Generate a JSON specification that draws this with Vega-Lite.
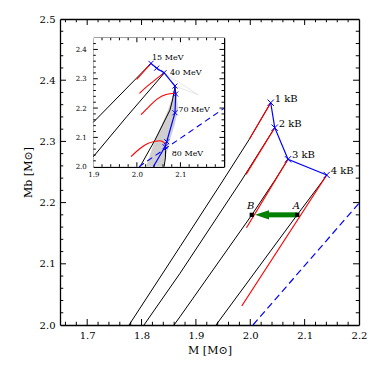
{
  "$schema": "https://vega.github.io/schema/vega-lite/v6.json",
  "width": 299,
  "height": 306,
  "autosize": {"type": "none"},
  "padding": {"left": 60, "top": 19, "right": 15, "bottom": 49},
  "background": "white",
  "config": {
    "view": {"stroke": null},
    "axis": {"grid": false, "ticks": false, "domainColor": "black", "labelColor": "black", "titleColor": "black", "labelFont": "DejaVu Serif", "titleFont": "DejaVu Serif", "titleFontWeight": "normal", "zindex": 1, "labelFlush": false, "labelOverlap": false, "domainWidth": 1.3},
    "tick": {"opacity": 1, "thickness": 1, "color": "black"}
  },
  "datasets": {
    "tMainX": [
      {"v": 1.66, "major": 0}, {"v": 1.68, "major": 0}, {"v": 1.7, "major": 1}, {"v": 1.72, "major": 0}, {"v": 1.74, "major": 0}, {"v": 1.76, "major": 0}, {"v": 1.78, "major": 0},
      {"v": 1.8, "major": 1}, {"v": 1.82, "major": 0}, {"v": 1.84, "major": 0}, {"v": 1.86, "major": 0}, {"v": 1.88, "major": 0},
      {"v": 1.9, "major": 1}, {"v": 1.92, "major": 0}, {"v": 1.94, "major": 0}, {"v": 1.96, "major": 0}, {"v": 1.98, "major": 0},
      {"v": 2.0, "major": 1}, {"v": 2.02, "major": 0}, {"v": 2.04, "major": 0}, {"v": 2.06, "major": 0}, {"v": 2.08, "major": 0},
      {"v": 2.1, "major": 1}, {"v": 2.12, "major": 0}, {"v": 2.14, "major": 0}, {"v": 2.16, "major": 0}, {"v": 2.18, "major": 0}
    ],
    "tMainY": [
      {"v": 2.02, "major": 0}, {"v": 2.04, "major": 0}, {"v": 2.06, "major": 0}, {"v": 2.08, "major": 0},
      {"v": 2.1, "major": 1}, {"v": 2.12, "major": 0}, {"v": 2.14, "major": 0}, {"v": 2.16, "major": 0}, {"v": 2.18, "major": 0},
      {"v": 2.2, "major": 1}, {"v": 2.22, "major": 0}, {"v": 2.24, "major": 0}, {"v": 2.26, "major": 0}, {"v": 2.28, "major": 0},
      {"v": 2.3, "major": 1}, {"v": 2.32, "major": 0}, {"v": 2.34, "major": 0}, {"v": 2.36, "major": 0}, {"v": 2.38, "major": 0},
      {"v": 2.4, "major": 1}, {"v": 2.42, "major": 0}, {"v": 2.44, "major": 0}, {"v": 2.46, "major": 0}, {"v": 2.48, "major": 0}
    ],
    "tInsetX": [
      {"v": 1.92, "major": 0}, {"v": 1.94, "major": 0}, {"v": 1.96, "major": 0}, {"v": 1.98, "major": 0},
      {"v": 2.0, "major": 1}, {"v": 2.02, "major": 0}, {"v": 2.04, "major": 0}, {"v": 2.06, "major": 0}, {"v": 2.08, "major": 0},
      {"v": 2.1, "major": 1}, {"v": 2.12, "major": 0}, {"v": 2.14, "major": 0}, {"v": 2.16, "major": 0}, {"v": 2.18, "major": 0}
    ],
    "tInsetY": [
      {"v": 2.02, "major": 0}, {"v": 2.04, "major": 0}, {"v": 2.06, "major": 0}, {"v": 2.08, "major": 0},
      {"v": 2.1, "major": 1}, {"v": 2.12, "major": 0}, {"v": 2.14, "major": 0}, {"v": 2.16, "major": 0}, {"v": 2.18, "major": 0},
      {"v": 2.2, "major": 1}, {"v": 2.22, "major": 0}, {"v": 2.24, "major": 0}, {"v": 2.26, "major": 0}, {"v": 2.28, "major": 0},
      {"v": 2.3, "major": 1}, {"v": 2.32, "major": 0}, {"v": 2.34, "major": 0}, {"v": 2.36, "major": 0}, {"v": 2.38, "major": 0},
      {"v": 2.4, "major": 1}, {"v": 2.42, "major": 0}
    ],
    "mainBlack": [
      {"line": 1, "i": 0, "M": 1.777, "Mb": 2.0}, {"line": 1, "i": 1, "M": 1.8708, "Mb": 2.1279}, {"line": 1, "i": 2, "M": 1.9504, "Mb": 2.2369}, {"line": 1, "i": 3, "M": 1.9982, "Mb": 2.3034}, {"line": 1, "i": 4, "M": 2.0376, "Mb": 2.3632},
      {"line": 2, "i": 0, "M": 1.8045, "Mb": 2.0}, {"line": 2, "i": 1, "M": 1.8708, "Mb": 2.0845}, {"line": 2, "i": 2, "M": 1.9843, "Mb": 2.2369}, {"line": 2, "i": 3, "M": 2.045, "Mb": 2.3224},
      {"line": 3, "i": 0, "M": 1.8597, "Mb": 2.0}, {"line": 3, "i": 1, "M": 1.8708, "Mb": 2.0136}, {"line": 3, "i": 2, "M": 2.0027, "Mb": 2.1797}, {"line": 3, "i": 3, "M": 2.0455, "Mb": 2.2369}, {"line": 3, "i": 4, "M": 2.0694, "Mb": 2.2708},
      {"line": 4, "i": 0, "M": 1.937, "Mb": 2.0}, {"line": 4, "i": 1, "M": 2.0865, "Mb": 2.1802}, {"line": 4, "i": 2, "M": 2.1344, "Mb": 2.2369}, {"line": 4, "i": 3, "M": 2.1406, "Mb": 2.2451}
    ],
    "mainRed": [
      {"line": 1, "i": 0, "M": 1.9982, "Mb": 2.3034}, {"line": 1, "i": 1, "M": 2.0376, "Mb": 2.3632},
      {"line": 2, "i": 0, "M": 1.9922, "Mb": 2.2462}, {"line": 2, "i": 1, "M": 2.045, "Mb": 2.3224},
      {"line": 3, "i": 0, "M": 1.993, "Mb": 2.159}, {"line": 3, "i": 1, "M": 2.0694, "Mb": 2.2708},
      {"line": 4, "i": 0, "M": 1.9843, "Mb": 2.031}, {"line": 4, "i": 1, "M": 2.1406, "Mb": 2.2451}
    ],
    "mainKB": [
      {"i": 0, "M": 2.0376, "Mb": 2.3632, "label": "1 kB"},
      {"i": 1, "M": 2.045, "Mb": 2.3224, "label": "2 kB"},
      {"i": 2, "M": 2.0694, "Mb": 2.2708, "label": "3 kB"},
      {"i": 3, "M": 2.1406, "Mb": 2.2451, "label": "4 kB"}
    ],
    "dashed": [
      {"i": 0, "M": 2.005, "Mb": 2.0}, {"i": 1, "M": 2.2, "Mb": 2.199}
    ],
    "AB": [
      {"M": 2.0865, "Mb": 2.18, "label": "A"},
      {"M": 2.0027, "Mb": 2.18, "label": "B"}
    ],
    "arrow": [
      {"from": 2.0865, "to": 2.033, "head": 2.0216, "Mb": 2.18}
    ],
    "insetFrame": [
      {"x0": 1.9, "x1": 2.2, "y0": 2.0, "y1": 2.44}
    ],
    "band": [
      {"Mb": 2.0, "lo": 2.021, "hi": 2.06},
      {"Mb": 2.045, "lo": 2.031, "hi": 2.068},
      {"Mb": 2.091, "lo": 2.0416, "hi": 2.076},
      {"Mb": 2.14, "lo": 2.056, "hi": 2.086},
      {"Mb": 2.193, "lo": 2.0715, "hi": 2.0944},
      {"Mb": 2.24, "lo": 2.082, "hi": 2.092},
      {"Mb": 2.268, "lo": 2.0875, "hi": 2.0885}
    ],
    "faint": [
      {"line": 1, "i": 0, "M": 2.062, "Mb": 2.318}, {"line": 1, "i": 1, "M": 2.1, "Mb": 2.285}, {"line": 1, "i": 2, "M": 2.141, "Mb": 2.245},
      {"line": 2, "i": 0, "M": 2.0875, "Mb": 2.275}, {"line": 2, "i": 1, "M": 2.141, "Mb": 2.245}
    ],
    "insetBlack": [
      {"line": 1, "i": 0, "M": 1.9, "Mb": 2.1514}, {"line": 1, "i": 1, "M": 2.0324, "Mb": 2.3525},
      {"line": 2, "i": 0, "M": 1.9, "Mb": 2.034}, {"line": 2, "i": 1, "M": 1.9767, "Mb": 2.1705}, {"line": 2, "i": 2, "M": 2.0623, "Mb": 2.3184},
      {"line": 3, "i": 0, "M": 2.0072, "Mb": 2.0}, {"line": 3, "i": 1, "M": 2.0416, "Mb": 2.091}, {"line": 3, "i": 2, "M": 2.076, "Mb": 2.1932}, {"line": 3, "i": 3, "M": 2.0818, "Mb": 2.2273}, {"line": 3, "i": 4, "M": 2.0875, "Mb": 2.2727},
      {"line": 4, "i": 0, "M": 2.0625, "Mb": 2.0}, {"line": 4, "i": 1, "M": 2.0655, "Mb": 2.03}, {"line": 4, "i": 2, "M": 2.066, "Mb": 2.055}, {"line": 4, "i": 3, "M": 2.0646, "Mb": 2.068}
    ],
    "insetRed": [
      {"line": 1, "i": 0, "M": 1.9996, "Mb": 2.2974}, {"line": 1, "i": 1, "M": 2.0324, "Mb": 2.3525},
      {"line": 2, "i": 0, "M": 2.006, "Mb": 2.25}, {"line": 2, "i": 1, "M": 2.022, "Mb": 2.272}, {"line": 2, "i": 2, "M": 2.0377, "Mb": 2.291}, {"line": 2, "i": 3, "M": 2.052, "Mb": 2.308}, {"line": 2, "i": 4, "M": 2.062, "Mb": 2.32},
      {"line": 3, "i": 0, "M": 2.0095, "Mb": 2.1773}, {"line": 3, "i": 1, "M": 2.028, "Mb": 2.205}, {"line": 3, "i": 2, "M": 2.0455, "Mb": 2.2298}, {"line": 3, "i": 3, "M": 2.0669, "Mb": 2.2465}, {"line": 3, "i": 4, "M": 2.0875, "Mb": 2.2503},
      {"line": 4, "i": 0, "M": 1.9865, "Mb": 2.0341}, {"line": 4, "i": 1, "M": 2.008, "Mb": 2.063}, {"line": 4, "i": 2, "M": 2.0262, "Mb": 2.0798}, {"line": 4, "i": 3, "M": 2.042, "Mb": 2.087}, {"line": 4, "i": 4, "M": 2.0531, "Mb": 2.0886}, {"line": 4, "i": 5, "M": 2.062, "Mb": 2.083}, {"line": 4, "i": 6, "M": 2.0665, "Mb": 2.072}
    ],
    "insetBlue": [
      {"i": 0, "M": 2.0324, "Mb": 2.3525, "m": 1}, {"i": 1, "M": 2.0455, "Mb": 2.336, "m": 1}, {"i": 2, "M": 2.0623, "Mb": 2.3205, "m": 1}, {"i": 3, "M": 2.0875, "Mb": 2.2751, "m": 1}, {"i": 4, "M": 2.0891, "Mb": 2.2479, "m": 1}, {"i": 5, "M": 2.0875, "Mb": 2.1841, "m": 1}, {"i": 6, "M": 2.0685, "Mb": 2.0852, "m": 1}, {"i": 7, "M": 2.0646, "Mb": 2.0682, "m": 1}, {"i": 8, "M": 2.0377, "Mb": 2.0, "m": 0}
    ],
    "insetLabels": [
      {"M": 2.0347, "Mb": 2.3696, "label": "15 MeV"},
      {"M": 2.076, "Mb": 2.3205, "label": "40 MeV"},
      {"M": 2.0951, "Mb": 2.1933, "label": "70 MeV"},
      {"M": 2.08, "Mb": 2.0433, "label": "80 MeV"}
    ]
  },
  "layer": [
    {
      "data": {"name": "mainBlack"},
      "mark": {"type": "line", "color": "black", "strokeWidth": 1},
      "encoding": {
        "x": {"field": "M", "type": "quantitative", "scale": {"domain": [1.65, 2.2], "nice": false, "zero": false},
          "axis": {"orient": "bottom", "values": [1.7, 1.8, 1.9, 2.0, 2.1, 2.2], "format": ".1f",
            "labelPadding": 5, "labelFontSize": 10, "title": "M [M⊙]", "titleFontSize": 11, "titlePadding": 4}},
        "y": {"field": "Mb", "type": "quantitative", "scale": {"domain": [2.0, 2.5], "nice": false, "zero": false},
          "axis": {"orient": "left", "values": [2.0, 2.1, 2.2, 2.3, 2.4, 2.5], "format": ".1f",
            "labelPadding": 5, "labelFontSize": 10, "title": "Mb [M⊙]", "titleFontSize": 11, "titlePadding": 6}},
        "detail": {"field": "line"},
        "order": {"field": "i"}
      }
    },
    {
      "data": {"name": "mainRed"},
      "mark": {"type": "line", "color": "#ff0000", "strokeWidth": 1.2},
      "encoding": {
        "x": {"field": "M", "type": "quantitative", "scale": {"domain": [1.65, 2.2], "nice": false, "zero": false},
          "axis": {"orient": "top", "labels": false, "title": null}},
        "y": {"field": "Mb", "type": "quantitative", "scale": {"domain": [2.0, 2.5], "nice": false, "zero": false},
          "axis": {"orient": "right", "labels": false, "title": null}},
        "detail": {"field": "line"},
        "order": {"field": "i"}
      }
    },
    {
      "data": {"name": "tMainX"},
      "mark": {"type": "tick", "orient": "vertical", "clip": true},
      "encoding": {
        "x": {"field": "v", "type": "quantitative", "scale": {"domain": [1.65, 2.2], "nice": false, "zero": false}, "axis": null},
        "y": {"datum": 2.0, "type": "quantitative", "scale": {"domain": [2.0, 2.5], "nice": false, "zero": false}, "axis": null},
        "size": {"condition": {"test": "datum.major == 1", "value": 12}, "value": 6.5}
      }
    },
    {
      "data": {"name": "tMainX"},
      "mark": {"type": "tick", "orient": "vertical", "clip": true},
      "encoding": {
        "x": {"field": "v", "type": "quantitative", "scale": {"domain": [1.65, 2.2], "nice": false, "zero": false}, "axis": null},
        "y": {"datum": 2.5, "type": "quantitative", "scale": {"domain": [2.0, 2.5], "nice": false, "zero": false}, "axis": null},
        "size": {"condition": {"test": "datum.major == 1", "value": 12}, "value": 6.5}
      }
    },
    {
      "data": {"name": "tMainY"},
      "mark": {"type": "tick", "orient": "horizontal", "clip": true},
      "encoding": {
        "y": {"field": "v", "type": "quantitative", "scale": {"domain": [2.0, 2.5], "nice": false, "zero": false}, "axis": null},
        "x": {"datum": 1.65, "type": "quantitative", "scale": {"domain": [1.65, 2.2], "nice": false, "zero": false}, "axis": null},
        "size": {"condition": {"test": "datum.major == 1", "value": 12}, "value": 6.5}
      }
    },
    {
      "data": {"name": "tMainY"},
      "mark": {"type": "tick", "orient": "horizontal", "clip": true},
      "encoding": {
        "y": {"field": "v", "type": "quantitative", "scale": {"domain": [2.0, 2.5], "nice": false, "zero": false}, "axis": null},
        "x": {"datum": 2.2, "type": "quantitative", "scale": {"domain": [1.65, 2.2], "nice": false, "zero": false}, "axis": null},
        "size": {"condition": {"test": "datum.major == 1", "value": 12}, "value": 6.5}
      }
    },
    {
      "data": {"name": "dashed"},
      "mark": {"type": "line", "color": "#0000ff", "strokeWidth": 1.2, "strokeDash": [7, 4]},
      "encoding": {
        "x": {"field": "M", "type": "quantitative", "scale": {"domain": [1.65, 2.2], "nice": false, "zero": false}, "axis": null},
        "y": {"field": "Mb", "type": "quantitative", "scale": {"domain": [2.0, 2.5], "nice": false, "zero": false}, "axis": null},
        "order": {"field": "i"}
      }
    },
    {
      "data": {"name": "mainKB"},
      "mark": {"type": "line", "color": "#0000ff", "strokeWidth": 1.2},
      "encoding": {
        "x": {"field": "M", "type": "quantitative", "scale": {"domain": [1.65, 2.2], "nice": false, "zero": false}, "axis": null},
        "y": {"field": "Mb", "type": "quantitative", "scale": {"domain": [2.0, 2.5], "nice": false, "zero": false}, "axis": null},
        "order": {"field": "i"}
      }
    },
    {
      "data": {"name": "mainKB"},
      "mark": {"type": "point", "shape": "M-1,-1L1,1M-1,1L1,-1", "filled": false, "color": "#0000ff", "strokeWidth": 1, "size": 40, "opacity": 1},
      "encoding": {
        "x": {"field": "M", "type": "quantitative", "scale": {"domain": [1.65, 2.2], "nice": false, "zero": false}, "axis": null},
        "y": {"field": "Mb", "type": "quantitative", "scale": {"domain": [2.0, 2.5], "nice": false, "zero": false}, "axis": null}
      }
    },
    {
      "data": {"name": "mainKB"},
      "mark": {"type": "text", "align": "left", "baseline": "middle", "dx": 4, "dy": -4, "font": "DejaVu Serif", "fontSize": 10, "color": "black"},
      "encoding": {
        "x": {"field": "M", "type": "quantitative", "scale": {"domain": [1.65, 2.2], "nice": false, "zero": false}, "axis": null},
        "y": {"field": "Mb", "type": "quantitative", "scale": {"domain": [2.0, 2.5], "nice": false, "zero": false}, "axis": null},
        "text": {"field": "label"}
      }
    },
    {
      "data": {"name": "arrow"},
      "mark": {"type": "rule", "color": "#008000", "strokeWidth": 5, "strokeCap": "butt"},
      "encoding": {
        "x": {"field": "from", "type": "quantitative", "scale": {"domain": [1.65, 2.2], "nice": false, "zero": false}, "axis": null},
        "x2": {"field": "to"},
        "y": {"field": "Mb", "type": "quantitative", "scale": {"domain": [2.0, 2.5], "nice": false, "zero": false}, "axis": null}
      }
    },
    {
      "data": {"name": "arrow"},
      "mark": {"type": "point", "shape": "M-1,0L1,-0.65L1,0.65Z", "filled": true, "color": "#008000", "size": 196, "opacity": 1},
      "encoding": {
        "x": {"field": "head", "type": "quantitative", "scale": {"domain": [1.65, 2.2], "nice": false, "zero": false}, "axis": null},
        "y": {"field": "Mb", "type": "quantitative", "scale": {"domain": [2.0, 2.5], "nice": false, "zero": false}, "axis": null}
      }
    },
    {
      "data": {"name": "AB"},
      "mark": {"type": "square", "filled": true, "color": "black", "size": 18, "opacity": 1},
      "encoding": {
        "x": {"field": "M", "type": "quantitative", "scale": {"domain": [1.65, 2.2], "nice": false, "zero": false}, "axis": null},
        "y": {"field": "Mb", "type": "quantitative", "scale": {"domain": [2.0, 2.5], "nice": false, "zero": false}, "axis": null}
      }
    },
    {
      "data": {"name": "AB"},
      "mark": {"type": "text", "align": "center", "baseline": "middle", "dy": -9, "dx": -1, "font": "DejaVu Serif", "fontStyle": "italic", "fontSize": 10, "color": "black"},
      "encoding": {
        "x": {"field": "M", "type": "quantitative", "scale": {"domain": [1.65, 2.2], "nice": false, "zero": false}, "axis": null},
        "y": {"field": "Mb", "type": "quantitative", "scale": {"domain": [2.0, 2.5], "nice": false, "zero": false}, "axis": null},
        "text": {"field": "label"}
      }
    },
    {
      "data": {"name": "insetFrame"},
      "mark": {"type": "rect", "fill": "white", "stroke": null},
      "encoding": {
        "x": {"field": "x0", "type": "quantitative", "scale": {"domain": [1.9, 2.2], "range": [33.3, 164], "nice": false, "zero": false},
          "axis": {"orient": "bottom", "offset": -158.3, "values": [1.9, 2.0, 2.1], "format": ".1f",
            "labelPadding": 4, "labelFontSize": 7, "title": null, "domainWidth": 1.5}},
        "x2": {"field": "x1"},
        "y": {"field": "y0", "type": "quantitative", "scale": {"domain": [2.0, 2.44], "range": [147.7, 18.7], "nice": false, "zero": false},
          "axis": {"orient": "left", "offset": -33.3, "values": [2.0, 2.1, 2.2, 2.3, 2.4], "format": ".1f",
            "labelPadding": 7, "labelFontSize": 7, "title": null, "domainWidth": 1.5}},
        "y2": {"field": "y1"}
      }
    },
    {
      "data": {"name": "band"},
      "mark": {"type": "area", "orient": "horizontal", "color": "#cfcfcf", "opacity": 1},
      "encoding": {
        "y": {"field": "Mb", "type": "quantitative", "scale": {"domain": [2.0, 2.44], "range": [147.7, 18.7], "nice": false, "zero": false}, "axis": null},
        "x": {"field": "lo", "type": "quantitative", "scale": {"domain": [1.9, 2.2], "range": [33.3, 164], "nice": false, "zero": false}, "axis": null},
        "x2": {"field": "hi"}
      }
    },
    {
      "data": {"name": "faint"},
      "mark": {"type": "line", "color": "#dddddd", "strokeWidth": 0.7},
      "encoding": {
        "x": {"field": "M", "type": "quantitative", "scale": {"domain": [1.9, 2.2], "range": [33.3, 164], "nice": false, "zero": false},
          "axis": {"orient": "top", "offset": -18.7, "labels": false, "title": null, "domainWidth": 1.5}},
        "y": {"field": "Mb", "type": "quantitative", "scale": {"domain": [2.0, 2.44], "range": [147.7, 18.7], "nice": false, "zero": false},
          "axis": {"orient": "right", "offset": -135, "labels": false, "title": null, "domainWidth": 1.5}},
        "detail": {"field": "line"},
        "order": {"field": "i"}
      }
    },
    {
      "data": {"name": "tInsetX"},
      "transform": [{"filter": "datum.major == 1"}],
      "mark": {"type": "tick", "orient": "vertical", "size": 4.5, "yOffset": -2.25},
      "encoding": {
        "x": {"field": "v", "type": "quantitative", "scale": {"domain": [1.9, 2.2], "range": [33.3, 164], "nice": false, "zero": false}, "axis": null},
        "y": {"datum": 2.0, "type": "quantitative", "scale": {"domain": [2.0, 2.44], "range": [147.7, 18.7], "nice": false, "zero": false}, "axis": null}
      }
    },
    {
      "data": {"name": "tInsetX"},
      "transform": [{"filter": "datum.major == 0"}],
      "mark": {"type": "tick", "orient": "vertical", "size": 2.5, "yOffset": -1.25},
      "encoding": {
        "x": {"field": "v", "type": "quantitative", "scale": {"domain": [1.9, 2.2], "range": [33.3, 164], "nice": false, "zero": false}, "axis": null},
        "y": {"datum": 2.0, "type": "quantitative", "scale": {"domain": [2.0, 2.44], "range": [147.7, 18.7], "nice": false, "zero": false}, "axis": null}
      }
    },
    {
      "data": {"name": "tInsetX"},
      "transform": [{"filter": "datum.major == 1"}],
      "mark": {"type": "tick", "orient": "vertical", "size": 4.5, "yOffset": 2.25},
      "encoding": {
        "x": {"field": "v", "type": "quantitative", "scale": {"domain": [1.9, 2.2], "range": [33.3, 164], "nice": false, "zero": false}, "axis": null},
        "y": {"datum": 2.44, "type": "quantitative", "scale": {"domain": [2.0, 2.44], "range": [147.7, 18.7], "nice": false, "zero": false}, "axis": null}
      }
    },
    {
      "data": {"name": "tInsetX"},
      "transform": [{"filter": "datum.major == 0"}],
      "mark": {"type": "tick", "orient": "vertical", "size": 2.5, "yOffset": 1.25},
      "encoding": {
        "x": {"field": "v", "type": "quantitative", "scale": {"domain": [1.9, 2.2], "range": [33.3, 164], "nice": false, "zero": false}, "axis": null},
        "y": {"datum": 2.44, "type": "quantitative", "scale": {"domain": [2.0, 2.44], "range": [147.7, 18.7], "nice": false, "zero": false}, "axis": null}
      }
    },
    {
      "data": {"name": "tInsetY"},
      "transform": [{"filter": "datum.major == 1"}],
      "mark": {"type": "tick", "orient": "horizontal", "size": 4.5, "xOffset": 2.25},
      "encoding": {
        "y": {"field": "v", "type": "quantitative", "scale": {"domain": [2.0, 2.44], "range": [147.7, 18.7], "nice": false, "zero": false}, "axis": null},
        "x": {"datum": 1.9, "type": "quantitative", "scale": {"domain": [1.9, 2.2], "range": [33.3, 164], "nice": false, "zero": false}, "axis": null}
      }
    },
    {
      "data": {"name": "tInsetY"},
      "transform": [{"filter": "datum.major == 0"}],
      "mark": {"type": "tick", "orient": "horizontal", "size": 2.5, "xOffset": 1.25},
      "encoding": {
        "y": {"field": "v", "type": "quantitative", "scale": {"domain": [2.0, 2.44], "range": [147.7, 18.7], "nice": false, "zero": false}, "axis": null},
        "x": {"datum": 1.9, "type": "quantitative", "scale": {"domain": [1.9, 2.2], "range": [33.3, 164], "nice": false, "zero": false}, "axis": null}
      }
    },
    {
      "data": {"name": "tInsetY"},
      "transform": [{"filter": "datum.major == 1"}],
      "mark": {"type": "tick", "orient": "horizontal", "size": 4.5, "xOffset": -2.25},
      "encoding": {
        "y": {"field": "v", "type": "quantitative", "scale": {"domain": [2.0, 2.44], "range": [147.7, 18.7], "nice": false, "zero": false}, "axis": null},
        "x": {"datum": 2.2, "type": "quantitative", "scale": {"domain": [1.9, 2.2], "range": [33.3, 164], "nice": false, "zero": false}, "axis": null}
      }
    },
    {
      "data": {"name": "tInsetY"},
      "transform": [{"filter": "datum.major == 0"}],
      "mark": {"type": "tick", "orient": "horizontal", "size": 2.5, "xOffset": -1.25},
      "encoding": {
        "y": {"field": "v", "type": "quantitative", "scale": {"domain": [2.0, 2.44], "range": [147.7, 18.7], "nice": false, "zero": false}, "axis": null},
        "x": {"datum": 2.2, "type": "quantitative", "scale": {"domain": [1.9, 2.2], "range": [33.3, 164], "nice": false, "zero": false}, "axis": null}
      }
    },
    {
      "data": {"name": "insetBlack"},
      "mark": {"type": "line", "color": "black", "strokeWidth": 1},
      "encoding": {
        "x": {"field": "M", "type": "quantitative", "scale": {"domain": [1.9, 2.2], "range": [33.3, 164], "nice": false, "zero": false}, "axis": null},
        "y": {"field": "Mb", "type": "quantitative", "scale": {"domain": [2.0, 2.44], "range": [147.7, 18.7], "nice": false, "zero": false}, "axis": null},
        "detail": {"field": "line"},
        "order": {"field": "i"}
      }
    },
    {
      "data": {"name": "insetRed"},
      "mark": {"type": "line", "color": "#ff0000", "strokeWidth": 1.1, "interpolate": "monotone"},
      "encoding": {
        "x": {"field": "M", "type": "quantitative", "scale": {"domain": [1.9, 2.2], "range": [33.3, 164], "nice": false, "zero": false}, "axis": null},
        "y": {"field": "Mb", "type": "quantitative", "scale": {"domain": [2.0, 2.44], "range": [147.7, 18.7], "nice": false, "zero": false}, "axis": null},
        "detail": {"field": "line"},
        "order": {"field": "i"}
      }
    },
    {
      "data": {"name": "dashed"},
      "mark": {"type": "line", "color": "#0000ff", "strokeWidth": 1.1, "strokeDash": [6, 4]},
      "encoding": {
        "x": {"field": "M", "type": "quantitative", "scale": {"domain": [1.9, 2.2], "range": [33.3, 164], "nice": false, "zero": false}, "axis": null},
        "y": {"field": "Mb", "type": "quantitative", "scale": {"domain": [2.0, 2.44], "range": [147.7, 18.7], "nice": false, "zero": false}, "axis": null},
        "order": {"field": "i"}
      }
    },
    {
      "data": {"name": "insetBlue"},
      "mark": {"type": "line", "color": "#0000ff", "strokeWidth": 1.2},
      "encoding": {
        "x": {"field": "M", "type": "quantitative", "scale": {"domain": [1.9, 2.2], "range": [33.3, 164], "nice": false, "zero": false}, "axis": null},
        "y": {"field": "Mb", "type": "quantitative", "scale": {"domain": [2.0, 2.44], "range": [147.7, 18.7], "nice": false, "zero": false}, "axis": null},
        "order": {"field": "i"}
      }
    },
    {
      "data": {"name": "insetBlue"},
      "transform": [{"filter": "datum.m == 1"}],
      "mark": {"type": "point", "shape": "M-1,-1L1,1M-1,1L1,-1", "filled": false, "color": "#0000ff", "strokeWidth": 1, "size": 25, "opacity": 1},
      "encoding": {
        "x": {"field": "M", "type": "quantitative", "scale": {"domain": [1.9, 2.2], "range": [33.3, 164], "nice": false, "zero": false}, "axis": null},
        "y": {"field": "Mb", "type": "quantitative", "scale": {"domain": [2.0, 2.44], "range": [147.7, 18.7], "nice": false, "zero": false}, "axis": null}
      }
    },
    {
      "data": {"name": "insetLabels"},
      "mark": {"type": "text", "align": "left", "baseline": "middle", "font": "DejaVu Serif", "fontSize": 8, "color": "black"},
      "encoding": {
        "x": {"field": "M", "type": "quantitative", "scale": {"domain": [1.9, 2.2], "range": [33.3, 164], "nice": false, "zero": false}, "axis": null},
        "y": {"field": "Mb", "type": "quantitative", "scale": {"domain": [2.0, 2.44], "range": [147.7, 18.7], "nice": false, "zero": false}, "axis": null},
        "text": {"field": "label"}
      }
    }
  ],
  "resolve": {"scale": {"x": "independent", "y": "independent"}, "axis": {"x": "independent", "y": "independent"}}
}
